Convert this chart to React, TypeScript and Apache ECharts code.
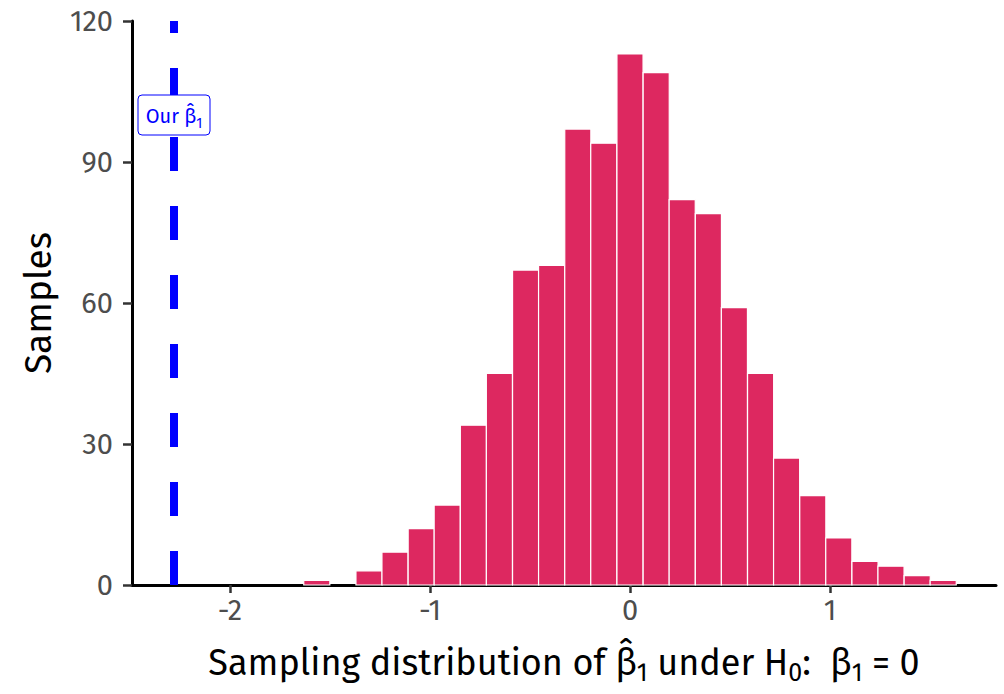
import React, { useEffect, useRef } from "react";
import * as echarts from "echarts";

// Histogram bins (centres) and counts
const binWidth = 0.1305;
const binCenters = [
  -1.566, -1.436, -1.305, -1.175, -1.044, -0.914, -0.783, -0.653, -0.522, -0.392, -0.261, -0.131,
  0, 0.131, 0.261, 0.392, 0.522, 0.653, 0.783, 0.914, 1.044, 1.175, 1.305, 1.436, 1.566,
];
const counts = [
  1, 0, 3, 7, 12, 17, 34, 45, 67, 68, 97, 94, 113, 109, 82, 79, 59, 45, 27, 19, 10, 5, 4, 2, 1,
];
const ourEstimate = -2.28;
const labelY = 100;
const xTicks = [-2, -1, 0, 1];
const yTicks = [0, 30, 60, 90, 120];

const FONT = "'Fira Sans', Roboto, sans-serif";
const BAR = "#DD2860";
const BLUE = "#0000FF";

export default function App() {
  const ref = useRef<HTMLDivElement>(null);
  useEffect(() => {
    if (!ref.current) return;
    const chart = echarts.init(ref.current, undefined, { renderer: "svg" });
    const barData = binCenters.map((c, i) => [c, counts[i]]);
    chart.setOption({
      animation: false,
      backgroundColor: "#ffffff",
      textStyle: { fontFamily: FONT },
      grid: { left: 132, right: 8, top: 21, bottom: 109, containLabel: false },
      xAxis: {
        type: "value",
        min: -2.49,
        max: 1.83,
        axisLine: { show: true, onZero: false, lineStyle: { color: "#000", width: 3 } },
        axisTick: { show: true, length: 8, lineStyle: { color: "#333", width: 2.5 }, customValues: xTicks },
        axisLabel: { color: "#4D4D4D", fontSize: 29, margin: 11, fontFamily: FONT, customValues: xTicks },
        splitLine: { show: false },
        name:
          "{t|Sampling distribution of β\u0302}{s|1}{t| under H}{s|0}{t|:  β}{s|1}{t| = 0}",
        nameLocation: "middle",
        nameGap: 56,
        nameTextStyle: {
          color: "#000",
          fontFamily: FONT,
          rich: {
            t: { fontSize: 36, lineHeight: 44, color: "#000", fontFamily: FONT },
            s: { fontSize: 25, lineHeight: 25, verticalAlign: "bottom", color: "#000", fontFamily: FONT },
          },
        },
      },
      yAxis: {
        type: "value",
        min: 0,
        max: 120,
        interval: 30,
        axisLine: { show: true, onZero: false, lineStyle: { color: "#000", width: 3 } },
        axisTick: { show: true, length: 9, lineStyle: { color: "#333", width: 2.5 } },
        axisLabel: { color: "#4D4D4D", fontSize: 29, margin: 19, fontFamily: FONT },
        splitLine: { show: false },
        name: "Samples",
        nameLocation: "middle",
        nameGap: 75,
        nameRotate: 90,
        nameTextStyle: { color: "#000", fontSize: 37, fontFamily: FONT },
      },
      series: [
        {
          type: "custom",
          data: barData,
          encode: { x: 0, y: 1 },
          renderItem: (params: any, api: any) => {
            const c = api.value(0);
            const n = api.value(1);
            if (!(n > 0)) return null;
            const p0 = api.coord([c - binWidth / 2, n]);
            const p1 = api.coord([c + binWidth / 2, 0]);
            return {
              type: "rect",
              shape: { x: p0[0], y: p0[1], width: p1[0] - p0[0], height: p1[1] - p0[1] },
              style: { fill: BAR, stroke: "#ffffff", lineWidth: 1.2 },
            };
          },
          z: 2,
        },
        {
          type: "line",
          data: [
            [ourEstimate, yTicks[0]],
            [ourEstimate, yTicks[yTicks.length - 1]],
          ],
          symbol: "none",
          lineStyle: { color: BLUE, width: 8, type: [34, 35], cap: "butt" },
          z: 1,
        },
        {
          type: "custom",
          data: [[ourEstimate, labelY]],
          encode: { x: 0, y: 1 },
          z: 30,
          renderItem: (params: any, api: any) => {
            const p = api.coord([api.value(0), api.value(1)]);
            return {
              type: "group",
              children: [
                {
                  type: "rect",
                  z2: 1,
                  shape: { x: p[0] - 36, y: p[1] - 20, width: 72, height: 40, r: 4 },
                  style: { fill: "#ffffff", stroke: BLUE, lineWidth: 1 },
                },
                {
                  type: "text",
                  z2: 2,
                  x: p[0],
                  y: p[1] + 1,
                  style: {
                    text: "{o|Our β\u0302}{s|1}",
                    align: "center",
                    verticalAlign: "middle",
                    rich: {
                      o: { fontSize: 20, lineHeight: 28, fill: BLUE, color: BLUE, fontFamily: FONT },
                      s: { fontSize: 14, lineHeight: 14, verticalAlign: "bottom", fill: BLUE, color: BLUE, fontFamily: FONT },
                    },
                  },
                },
              ],
            };
          },
        },
      ],
    });
    return () => chart.dispose();
  }, []);
  return (
    <div
      ref={ref}
      style={{ position: "fixed", left: 0, top: 0, width: 1004, height: 694, background: "#fff" }}
    />
  );
}
